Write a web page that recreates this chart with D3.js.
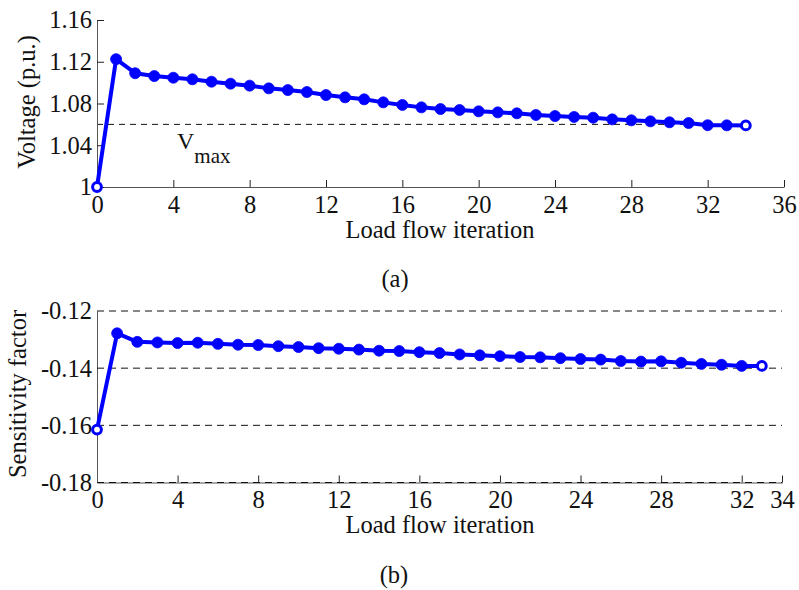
<!DOCTYPE html>
<html>
<head>
<meta charset="utf-8">
<script src="https://cdn.jsdelivr.net/npm/d3@7"></script>
<style>
  html, body { margin: 0; padding: 0; background: #fff; }
  svg { display: block; font-family: "Liberation Serif", "Times New Roman", serif; }
  .axis path.domain { stroke: #555; stroke-width: 1; }
  .axis line { stroke: #222; stroke-width: 1; }
  .axis text { font-size: 24.5px; fill: #111; font-family: "Liberation Serif", "Times New Roman", serif; }
</style>
</head>
<body>
<svg id="chart" width="799" height="590"></svg>
<script>
// Panel (a): bus voltage over load flow iterations
const iterA = d3.range(0, 35);
const voltage = [
  1.000, 1.1225, 1.1090, 1.1063, 1.1047, 1.1032, 1.1009, 1.0990, 1.0971, 1.0945,
  1.0929, 1.0910, 1.0881, 1.0859, 1.0840, 1.0811, 1.0786, 1.0763, 1.0747, 1.0738,
  1.0725, 1.0715, 1.0706, 1.0690, 1.0680, 1.0671, 1.0664, 1.0648, 1.0639, 1.0629,
  1.0620, 1.0613, 1.0592, 1.0591, 1.0590
];
const vMax = 1.06;
const xTicksA = [0, 4, 8, 12, 16, 20, 24, 28, 32, 36];
const yTicksA = [1, 1.04, 1.08, 1.12, 1.16];

// Panel (b): sensitivity factor over load flow iterations
const iterB = d3.range(0, 34);
const sensitivity = [
  -0.1615, -0.1278, -0.1308, -0.1310, -0.1312, -0.1311, -0.1315, -0.1318, -0.1319, -0.1323,
  -0.1326, -0.1330, -0.1332, -0.1335, -0.1339, -0.1340, -0.1344, -0.1347, -0.1352, -0.1355,
  -0.1358, -0.1361, -0.1362, -0.1365, -0.1368, -0.1370, -0.1375, -0.1377, -0.1376, -0.1381,
  -0.1385, -0.1388, -0.1392, -0.1392
];
const xTicksB = [0, 4, 8, 12, 16, 20, 24, 28, 32, 34];
const yTicksB = [-0.12, -0.14, -0.16, -0.18];

const svg = d3.select("#chart");
const BLUE = "#0000ff";
const FONT = 24.5;

// plain hyphen for negative numbers
const fmt2 = d => d.toFixed(2);

function drawSeries(g, xs, ys, x, y) {
  const pts = xs.map((d, i) => [d, ys[i]]);
  g.append("path")
    .datum(pts)
    .attr("fill", "none")
    .attr("stroke", BLUE)
    .attr("stroke-width", 4)
    .attr("stroke-linejoin", "round")
    .attr("d", d3.line().x(d => x(d[0])).y(d => y(d[1])));
  const last = pts.length - 1;
  g.selectAll("circle.m")
    .data(pts)
    .join("circle")
    .attr("class", "m")
    .attr("cx", d => x(d[0]))
    .attr("cy", d => y(d[1]))
    .attr("r", (d, i) => (i === 0 || i === last) ? 4.4 : 5.5)
    .attr("fill", (d, i) => (i === 0 || i === last) ? "#fff" : BLUE)
    .attr("stroke", BLUE)
    .attr("stroke-width", (d, i) => (i === 0 || i === last) ? 3 : 0.8);
}

// ---------- Panel (a) ----------
{
  const x = d3.scaleLinear().domain([0, 36]).range([97, 784]);
  const y = d3.scaleLinear().domain([1, 1.16]).range([187, 20]);
  const g = svg.append("g");

  // V_max reference line
  g.append("line")
    .attr("x1", x(0)).attr("x2", x(34))
    .attr("y1", y(vMax)).attr("y2", y(vMax))
    .attr("stroke", "#111").attr("stroke-width", 1)
    .attr("stroke-dasharray", "6,5");

  const xAxis = d3.axisBottom(x).tickValues(xTicksA).tickFormat(d3.format("d"))
    .tickSizeInner(-7).tickSizeOuter(0).tickPadding(9);
  g.append("g").attr("class", "axis").attr("transform", `translate(0,${y(1)})`).call(xAxis);

  const yAxis = d3.axisLeft(y).tickValues(yTicksA).tickFormat(d => d === 1 ? "1" : fmt2(d))
    .tickSizeInner(-7).tickSizeOuter(0).tickPadding(5);
  g.append("g").attr("class", "axis").attr("transform", `translate(${x(0)},0)`).call(yAxis);

  drawSeries(g, iterA, voltage, x, y);

  // V_max annotation
  const t = g.append("text").attr("x", 177).attr("y", 149)
    .attr("font-size", 24).attr("fill", "#111");
  t.append("tspan").text("V");
  t.append("tspan").attr("dy", 14).attr("dx", 0).attr("font-size", 21).text("max");

  g.append("text")
    .attr("x", 440).attr("y", 238).attr("text-anchor", "middle")
    .attr("font-size", FONT).attr("fill", "#111")
    .text("Load flow iteration");

  g.append("text")
    .attr("transform", `translate(35,102) rotate(-90)`)
    .attr("text-anchor", "middle")
    .attr("font-size", FONT).attr("fill", "#111")
    .text("Voltage (p.u.)");

  g.append("text")
    .attr("x", 395).attr("y", 287).attr("text-anchor", "middle")
    .attr("font-size", FONT).attr("fill", "#111")
    .text("(a)");
}

// ---------- Panel (b) ----------
{
  const x = d3.scaleLinear().domain([0, 34]).range([97, 782]);
  const y = d3.scaleLinear().domain([-0.18, -0.12]).range([482.5, 311]);
  const g = svg.append("g");

  const xAxis = d3.axisBottom(x).tickValues(xTicksB).tickFormat(d3.format("d"))
    .tickSizeInner(-7).tickSizeOuter(0).tickPadding(8);
  const xg = g.append("g").attr("class", "axis").attr("transform", `translate(0,${y(-0.18)})`).call(xAxis);
  xg.select("path.domain").attr("stroke", "#888");

  const yAxis = d3.axisLeft(y).tickValues(yTicksB).tickFormat(fmt2)
    .tickSizeInner(0).tickSizeOuter(0).tickPadding(5);
  g.append("g").attr("class", "axis").attr("transform", `translate(${x(0)},0)`).call(yAxis);

  // horizontal dashed grid
  g.selectAll("line.grid")
    .data(yTicksB)
    .join("line")
    .attr("class", "grid")
    .attr("x1", x(0)).attr("x2", x(34))
    .attr("y1", d => y(d)).attr("y2", d => y(d))
    .attr("stroke", "#111").attr("stroke-width", 1)
    .attr("stroke-dasharray", "7,5");

  drawSeries(g, iterB, sensitivity, x, y);

  g.append("text")
    .attr("x", 440).attr("y", 533).attr("text-anchor", "middle")
    .attr("font-size", FONT).attr("fill", "#111")
    .text("Load flow iteration");

  g.append("text")
    .attr("transform", `translate(26,394) rotate(-90)`)
    .attr("text-anchor", "middle")
    .attr("font-size", FONT).attr("fill", "#111")
    .text("Sensitivity factor");

  g.append("text")
    .attr("x", 394).attr("y", 583).attr("text-anchor", "middle")
    .attr("font-size", FONT).attr("fill", "#111")
    .text("(b)");
}
</script>
</body>
</html>
